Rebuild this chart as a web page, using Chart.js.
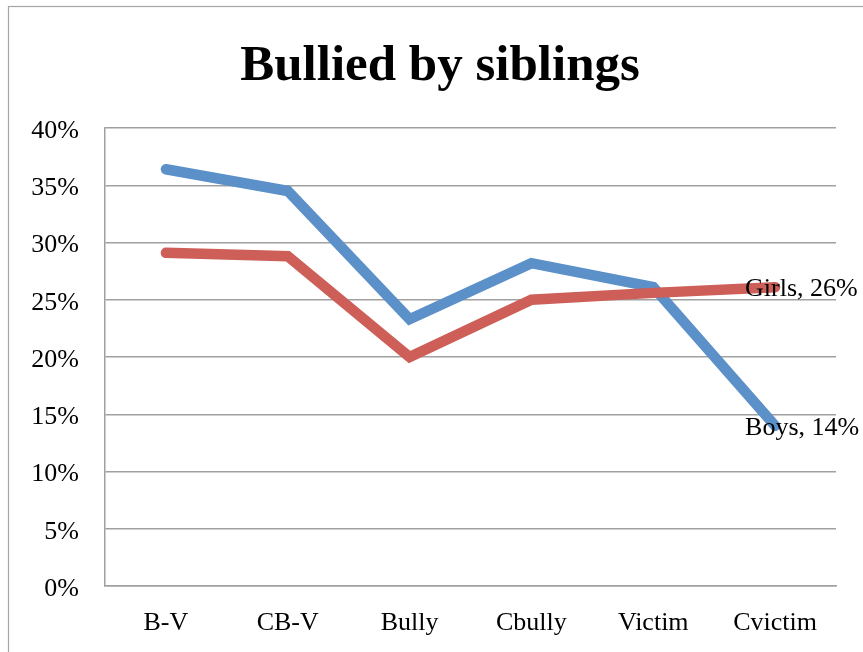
<!DOCTYPE html>
<html>
<head>
<meta charset="utf-8">
<script src="https://cdn.jsdelivr.net/npm/chart.js@4.4.1/dist/chart.umd.min.js"></script>
<style>
  html, body { margin: 0; padding: 0; background: #ffffff; }
  #wrap { position: relative; width: 863px; height: 652px; }
</style>
</head>
<body>
<div id="wrap"><canvas id="c" width="863" height="652"></canvas></div>
<script>
const categories = ["B-V", "CB-V", "Bully", "Cbully", "Victim", "Cvictim"];
const boys = [36.4, 34.5, 23.3, 28.2, 26.1, 14.0];
const girls = [29.1, 28.8, 20.0, 25.0, 25.6, 26.1];
const seriesNames = ["Boys", "Girls"];
const endLabels = ["Boys, 14%", "Girls, 26%"];
const titleText = "Bullied by siblings";

const serif = "'Liberation Serif', 'Times New Roman', serif";

const framePlugin = {
  id: 'frame',
  beforeDraw(chart) {
    const ctx = chart.ctx;
    ctx.save();
    ctx.fillStyle = '#ffffff';
    ctx.fillRect(0, 0, chart.width, chart.height);
    ctx.strokeStyle = '#a6a6a6';
    ctx.lineWidth = 1.2;
    ctx.strokeRect(8.5, 6.5, 1000, 1000);
    ctx.restore();
  }
};

const titlePlugin = {
  id: 'customTitle',
  afterDraw(chart) {
    const ctx = chart.ctx;
    ctx.save();
    ctx.font = "bold 51px " + serif;
    ctx.fillStyle = '#000000';
    ctx.textAlign = 'center';
    ctx.textBaseline = 'alphabetic';
    ctx.fillText(titleText, 440, 80);
    ctx.restore();
  }
};

const endLabelPlugin = {
  id: 'endLabels',
  afterDatasetsDraw(chart) {
    const ctx = chart.ctx;
    ctx.save();
    ctx.font = "26px " + serif;
    ctx.fillStyle = '#000000';
    ctx.textAlign = 'left';
    ctx.textBaseline = 'middle';
    chart.data.datasets.forEach((ds, i) => {
      const meta = chart.getDatasetMeta(i);
      const pt = meta.data[meta.data.length - 1];
      ctx.fillText(ds.endLabel, pt.x - 30, pt.y + 2);
    });
    ctx.restore();
  }
};

new Chart(document.getElementById('c'), {
  type: 'line',
  data: {
    labels: categories,
    datasets: [
      {
        label: seriesNames[0],
        data: boys,
        endLabel: endLabels[0],
        borderColor: '#5b90c9',
        backgroundColor: '#5b90c9',
        borderWidth: 10.5,
        borderCapStyle: 'round',
        borderJoinStyle: 'miter',
        pointRadius: 0,
        tension: 0,
        order: 1
      },
      {
        label: seriesNames[1],
        data: girls,
        endLabel: endLabels[1],
        borderColor: '#cd5f58',
        backgroundColor: '#cd5f58',
        borderWidth: 10.5,
        borderCapStyle: 'round',
        borderJoinStyle: 'miter',
        pointRadius: 0,
        tension: 0,
        order: 0
      }
    ]
  },
  options: {
    responsive: false,
    animation: false,
    devicePixelRatio: 1,
    layout: { padding: { top: 128, left: 0, right: 27, bottom: 0 } },
    plugins: {
      legend: { display: false },
      title: { display: false },
      tooltip: { enabled: false }
    },
    scales: {
      x: {
        offset: true,
        grid: { display: false, drawTicks: false },
        border: { display: true, color: '#a0a0a0', width: 1.5 },
        ticks: {
          color: '#000000',
          font: { family: serif, size: 26 },
          padding: 22,
          maxRotation: 0,
          autoSkip: false
        },
        afterFit(scale) { scale.height = 66; }
      },
      y: {
        min: 0,
        max: 40,
        grid: { color: '#a0a0a0', lineWidth: 1.5, drawTicks: false },
        border: { display: true, color: '#a0a0a0', width: 1.5 },
        ticks: {
          stepSize: 5,
          color: '#000000',
          font: { family: serif, size: 26 },
          padding: 26,
          labelOffset: 3,
          callback: (v) => v + '%'
        },
        afterFit(scale) { scale.width = 105; }
      }
    }
  },
  plugins: [framePlugin, titlePlugin, endLabelPlugin]
});
</script>
</body>
</html>
